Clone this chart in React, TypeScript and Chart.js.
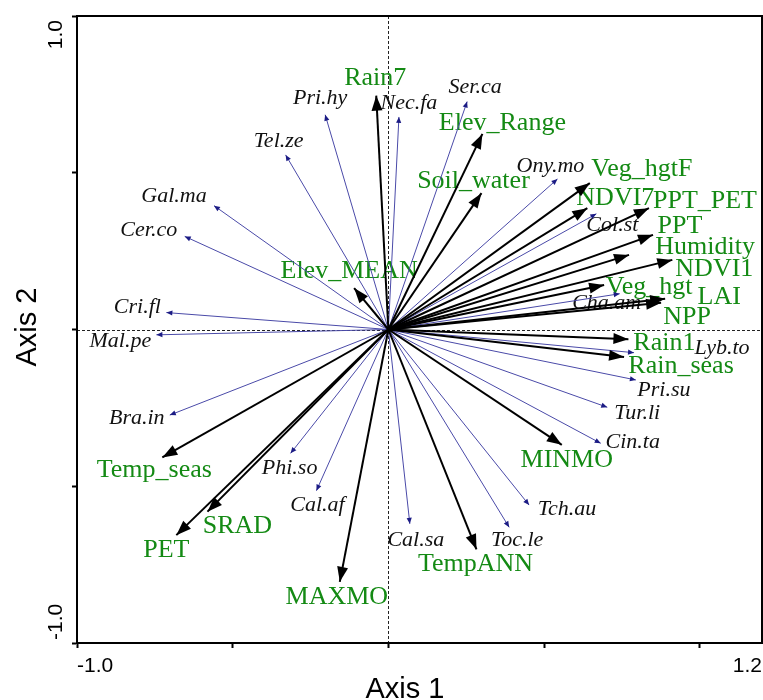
import { useEffect, useRef } from "react";
import { Chart, registerables } from "chart.js";

Chart.register(...registerables);

// ---- Data (biplot scores) ----
const speciesNames = [
  "Pri.hy", "Nec.fa", "Ser.ca", "Tel.ze", "Gal.ma", "Cer.co", "Cri.fl",
  "Mal.pe", "Bra.in", "Phi.so", "Cal.af", "Cal.sa", "Toc.le", "Tch.au",
  "Cin.ta", "Tur.li", "Pri.su", "Lyb.to", "Cha.am", "Col.st", "Ony.mo",
];
const speciesX = [
  -0.203, 0.034, 0.253, -0.330, -0.560, -0.654, -0.713,
  -0.745, -0.702, -0.314, -0.231, 0.069, 0.388, 0.452,
  0.682, 0.703, 0.795, 0.789, 0.743, 0.668, 0.543,
];
const speciesY = [
  0.685, 0.678, 0.727, 0.557, 0.395, 0.297, 0.054,
  -0.017, -0.273, -0.395, -0.514, -0.620, -0.631, -0.560,
  -0.363, -0.248, -0.161, -0.074, 0.114, 0.369, 0.480,
];

const envNames = [
  "Rain7", "Elev_Range", "Soil_water", "Elev_MEAN", "Veg_hgtF", "NDVI7",
  "PPT_PET", "PPT", "Humidity", "NDVI1", "Veg_hgt", "LAI", "NPP", "Rain1",
  "Rain_seas", "MINMO", "TempANN", "MAXMO", "PET", "SRAD", "Temp_seas",
];
const envX = [
  -0.039, 0.302, 0.299, -0.110, 0.647, 0.639,
  0.837, 0.850, 0.773, 0.912, 0.693, 0.889, 0.876, 0.771,
  0.757, 0.557, 0.283, -0.156, -0.681, -0.581, -0.726,
];
const envY = [
  0.746, 0.624, 0.435, 0.132, 0.467, 0.387,
  0.387, 0.302, 0.238, 0.222, 0.142, 0.098, 0.085, -0.031,
  -0.088, -0.368, -0.701, -0.805, -0.656, -0.581, -0.408,
];

const xTickValues = [-1, -0.5, 0, 0.5, 1];
const yTickValues = [-1, -0.5, 0, 0.5, 1];
const xLabelValues = [-1, 1.2];
const xLabelTexts = ["-1.0", "1.2"];
const yLabelValues = [-1, 1];
const yLabelTexts = ["-1.0", "1.0"];
const xTitle = "Axis 1";
const yTitle = "Axis 2";

// ---- Layout / style (label offsets in pixels from arrow tips) ----
const speciesLabelOffsets: [number, number][] = [
  [-5, -17], [10, -14], [8, -14], [-7, -14], [-40, -9], [-36, -6], [-29, -5],
  [-36, 6], [-33, 3], [-1, 15], [1, 15], [6, 16], [8, 13], [38, 4],
  [32, -1], [30, 6], [28, 10], [88, -4], [-13, 9], [16, 11], [-7, -13],
];
const envLabelOffsets: [number, number][] = [
  [-1, -17], [20, -11], [-8, -12], [-5, -17], [52, -14], [28, -10],
  [56, -7], [27, -9], [76, -8], [42, 9], [45, 2], [54, -2], [26, 14], [36, 4],
  [57, 9], [5, 15], [-1, 15], [-3, 15], [-10, 15], [30, 15], [-8, 13],
];

const GREEN = "#148a14";
const SPECIES_LINE = "#4a4aa8";
const SPECIES_HEAD = "#1c1c85";

type Kind = "env" | "species";

const biplotPlugin = {
  id: "biplot",
  beforeDatasetsDraw(chart: any) {
    const { ctx, chartArea, scales } = chart;
    const xs = scales.x;
    const ys = scales.y;
    ctx.save();
    // dashed zero lines
    ctx.strokeStyle = "#222";
    ctx.lineWidth = 1;
    ctx.setLineDash([3, 2]);
    const x0 = Math.round(xs.getPixelForValue(0)) + 0.5;
    const y0 = Math.round(ys.getPixelForValue(0)) + 0.5;
    ctx.beginPath();
    ctx.moveTo(x0, chartArea.top);
    ctx.lineTo(x0, chartArea.bottom);
    ctx.moveTo(chartArea.left, y0);
    ctx.lineTo(chartArea.right, y0);
    ctx.stroke();
    ctx.setLineDash([]);

    ctx.textAlign = "center";
    ctx.textBaseline = "middle";
    // species labels
    ctx.font = "italic 22px 'Liberation Serif', serif";
    ctx.fillStyle = "#111";
    speciesNames.forEach((n, i) => {
      const px = xs.getPixelForValue(speciesX[i]) + speciesLabelOffsets[i][0];
      const py = ys.getPixelForValue(speciesY[i]) + speciesLabelOffsets[i][1];
      ctx.fillText(n, px, py);
    });
    // environmental labels
    ctx.font = "26px 'Liberation Serif', serif";
    ctx.fillStyle = GREEN;
    envNames.forEach((n, i) => {
      const px = xs.getPixelForValue(envX[i]) + envLabelOffsets[i][0];
      const py = ys.getPixelForValue(envY[i]) + envLabelOffsets[i][1];
      ctx.fillText(n, px, py);
    });
    ctx.restore();
  },
  afterDatasetDraw(chart: any, args: any) {
    const ds = chart.data.datasets[args.index] as any;
    const pts = args.meta.data;
    if (!pts || pts.length < 2) return;
    const p0 = pts[0];
    const p1 = pts[1];
    const kind: Kind = ds.kind;
    const len = kind === "env" ? 15 : 6;
    const half = kind === "env" ? 5.5 : 2.6;
    const ang = Math.atan2(p1.y - p0.y, p1.x - p0.x);
    const { ctx } = chart;
    ctx.save();
    ctx.fillStyle = kind === "env" ? "#000" : SPECIES_HEAD;
    ctx.beginPath();
    ctx.moveTo(p1.x, p1.y);
    const bx = p1.x - len * Math.cos(ang);
    const by = p1.y - len * Math.sin(ang);
    ctx.lineTo(bx + half * Math.sin(ang), by - half * Math.cos(ang));
    ctx.lineTo(bx - half * Math.sin(ang), by + half * Math.cos(ang));
    ctx.closePath();
    ctx.fill();
    ctx.restore();
  },
  afterDraw(chart: any) {
    const { ctx, chartArea, scales } = chart;
    const xs = scales.x;
    const ys = scales.y;
    ctx.save();
    ctx.strokeStyle = "#000";
    ctx.lineWidth = 2;
    ctx.strokeRect(chartArea.left, chartArea.top, chartArea.right - chartArea.left, chartArea.bottom - chartArea.top);

    ctx.fillStyle = "#000";
    ctx.font = "21px 'Liberation Sans', Arial, sans-serif";
    ctx.textBaseline = "alphabetic";
    xLabelValues.forEach((v, i) => {
      const px = xs.getPixelForValue(v);
      ctx.textAlign = i === 0 ? "left" : "right";
      ctx.fillText(xLabelTexts[i], px, 672);
    });
    yLabelValues.forEach((v, i) => {
      const py = ys.getPixelForValue(v);
      ctx.save();
      ctx.translate(62, v > 0 ? py + 4 : py - 3);
      ctx.rotate(-Math.PI / 2);
      ctx.textAlign = v > 0 ? "right" : "left";
      ctx.fillText(yLabelTexts[i], 0, 0);
      ctx.restore();
    });

    ctx.font = "29px 'Liberation Sans', Arial, sans-serif";
    ctx.textAlign = "center";
    ctx.fillText(xTitle, 405, 698);
    ctx.save();
    ctx.translate(36, 327);
    ctx.rotate(-Math.PI / 2);
    ctx.fillText(yTitle, 0, 0);
    ctx.restore();
    ctx.restore();
  },
};

export default function App() {
  const ref = useRef<HTMLCanvasElement | null>(null);
  useEffect(() => {
    document.body.style.margin = "0";
    if (!ref.current) return;
    const envSets = envNames.map((n, i) => ({
      label: n,
      kind: "env",
      data: [{ x: 0, y: 0 }, { x: envX[i], y: envY[i] }],
      showLine: true,
      borderColor: "#000",
      borderWidth: 2,
      pointRadius: 0,
      order: 1,
    }));
    const spSets = speciesNames.map((n, i) => ({
      label: n,
      kind: "species",
      data: [{ x: 0, y: 0 }, { x: speciesX[i], y: speciesY[i] }],
      showLine: true,
      borderColor: SPECIES_LINE,
      borderWidth: 1,
      pointRadius: 0,
      order: 2,
    }));
    const axisCommon = {
      type: "linear" as const,
      border: { display: true, color: "#000", width: 2 },
      grid: { drawOnChartArea: false, drawTicks: true, tickLength: 5, tickWidth: 2, tickColor: "#000" },
      ticks: { display: false },
    };
    const chart = new Chart(ref.current, {
      type: "scatter",
      data: { datasets: [...envSets, ...spSets] as any },
      options: {
        animation: false,
        responsive: false,
        devicePixelRatio: 1,
        layout: { padding: { left: 72, right: 1, top: 16, bottom: 52 } },
        plugins: { legend: { display: false }, tooltip: { enabled: false } },
        scales: {
          x: {
            ...axisCommon,
            position: "bottom",
            min: -1,
            max: 1.2,
            afterBuildTicks: (s: any) => {
              s.ticks = xTickValues.map((v) => ({ value: v }));
            },
          },
          y: {
            ...axisCommon,
            position: "left",
            min: -1,
            max: 1,
            afterBuildTicks: (s: any) => {
              s.ticks = yTickValues.map((v) => ({ value: v }));
            },
          },
        },
      } as any,
      plugins: [biplotPlugin],
    });
    return () => chart.destroy();
  }, []);
  return <canvas ref={ref} width={763} height={700} style={{ display: "block" }} />;
}
